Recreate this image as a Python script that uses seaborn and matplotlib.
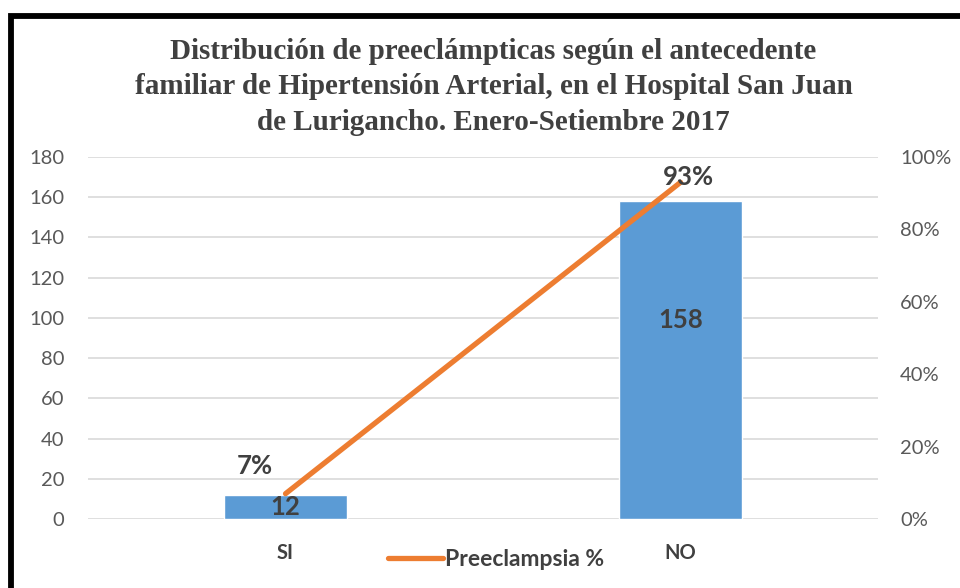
import matplotlib
matplotlib.use("Agg")
import matplotlib.pyplot as plt
import seaborn as sns
import pandas as pd
from matplotlib.patches import Rectangle
from matplotlib.ticker import PercentFormatter, MultipleLocator

# Datos del gráfico
categorias = ["SI", "NO"]
casos = [12, 158]
porcentaje = [0.07, 0.93]
etiquetas_pct = ["7%", "93%"]

df = pd.DataFrame({"Antecedente": categorias, "Casos": casos, "Pct": porcentaje})

titulo = ("Distribución de preeclámpticas según el antecedente\n"
          "familiar de Hipertensión Arterial, en el Hospital San Juan\n"
          "de Lurigancho. Enero-Setiembre 2017")

azul = "#5B9BD5"
naranja = "#ED7D31"
gris_txt = "#595959"
oscuro = "#404040"

sns.set_theme(style="white")
plt.rcParams["font.family"] = ["Lato", "DejaVu Sans"]

fig = plt.figure(figsize=(9.6, 5.88), dpi=100)
ax = fig.add_axes([0.0917, 0.1173, 0.8229, 0.6157])

sns.barplot(data=df, x="Antecedente", y="Casos", color=azul, width=0.313,
            saturation=1, ax=ax, zorder=2)
ax.set_ylim(0, 180)
ax.set_xlim(-0.5, 1.5)
ax.yaxis.set_major_locator(MultipleLocator(20))
ax.grid(axis="y", color="#D9D9D9", linewidth=1.2, zorder=0)
ax.set_axisbelow(True)
for s in ax.spines.values():
    s.set_visible(False)
ax.set_xlabel("")
ax.set_ylabel("")
ax.tick_params(axis="y", length=0, pad=17, labelsize=14.5, labelcolor=gris_txt)
ax.tick_params(axis="x", length=0, pad=17, labelsize=14.5, labelcolor=oscuro)
for t in ax.get_xticklabels():
    t.set_fontweight("bold")

# etiquetas de las barras (movidas a mano como en el original)
desplaz_barras = [0, 29]
for i, v in enumerate(casos):
    ax.annotate(str(v), (i, v / 2), xytext=(0, desplaz_barras[i]),
                textcoords="offset points", ha="center", va="center",
                fontsize=18.5, fontweight="bold", color=oscuro, zorder=5)

ax2 = ax.twinx()
sns.lineplot(x=[0, 1], y=porcentaje, color=naranja, linewidth=3.8, ax=ax2,
             label="Preeclampsia %", legend=False, zorder=4,
             solid_capstyle="round")
ax2.set_ylim(0, 1)
ax2.yaxis.set_major_locator(MultipleLocator(0.2))
ax2.yaxis.set_major_formatter(PercentFormatter(1.0, decimals=0))
ax2.tick_params(axis="y", length=0, pad=16, labelsize=14.5, labelcolor=gris_txt)
ax2.grid(False)
for s in ax2.spines.values():
    s.set_visible(False)
ax2.set_ylabel("")
ax2.set_xlim(-0.5, 1.5)

offsets = [(-22, 20), (6, 4)]
for i, (p, lab) in enumerate(zip(porcentaje, etiquetas_pct)):
    ax2.annotate(lab, (i, p), xytext=offsets[i], textcoords="offset points",
                 ha="center", va="center", fontsize=18.5, fontweight="bold",
                 color=oscuro, zorder=6)

handles, labels = ax2.get_legend_handles_labels()
leg = fig.legend(handles, labels, loc="center", bbox_to_anchor=(0.517, 0.049),
                 frameon=False, handlelength=2.4, handletextpad=0.1,
                 prop={"weight": "bold", "size": 16.5})
for t in leg.get_texts():
    t.set_color(oscuro)

fig.text(0.514, 1 - 87 / 588, titulo, ha="center", va="center",
         fontsize=21, fontweight="bold", color=oscuro,
         family="Liberation Serif", linespacing=1.4)

# marco negro del gráfico
fig.patches.append(Rectangle((11 / 960, -0.2), 2, 1.2 - 16 / 588,
                             transform=fig.transFigure, fill=False,
                             edgecolor="black", linewidth=4.2))

fig.savefig("out.png", dpi=100)
